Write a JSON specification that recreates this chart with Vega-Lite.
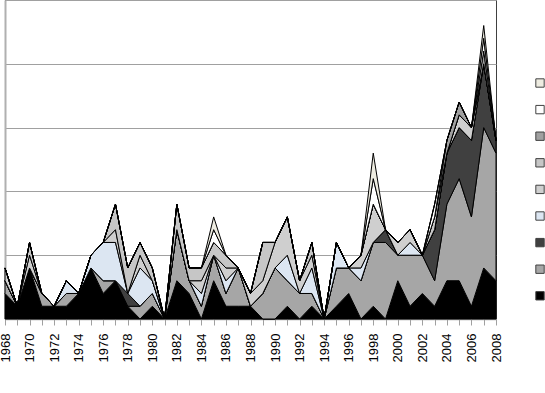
{
  "$schema": "https://vega.github.io/schema/vega-lite/v6.json",
  "width": 491,
  "height": 319,
  "autosize": {"type": "none"},
  "padding": {"left": 5, "top": 0, "right": 49, "bottom": 74},
  "background": "white",
  "config": {
    "view": {"stroke": "#404040", "strokeWidth": 1},
    "font": "Liberation Sans"
  },
  "data": {
    "values": [
      {"year": 1968, "s1": 2, "s2": 1, "s3": 0, "s4": 0, "s5": 1, "s6": 0, "s7": 0, "s8": 0, "s9": 0},
      {"year": 1969, "s1": 1, "s2": 0, "s3": 0, "s4": 0, "s5": 0, "s6": 0, "s7": 0, "s8": 0, "s9": 0},
      {"year": 1970, "s1": 4, "s2": 0, "s3": 0, "s4": 0, "s5": 1, "s6": 1, "s7": 0, "s8": 0, "s9": 0},
      {"year": 1971, "s1": 1, "s2": 1, "s3": 0, "s4": 0, "s5": 0, "s6": 0, "s7": 0, "s8": 0, "s9": 0},
      {"year": 1972, "s1": 1, "s2": 0, "s3": 0, "s4": 0, "s5": 0, "s6": 0, "s7": 0, "s8": 0, "s9": 0},
      {"year": 1973, "s1": 1, "s2": 1, "s3": 0, "s4": 1, "s5": 0, "s6": 0, "s7": 0, "s8": 0, "s9": 0},
      {"year": 1974, "s1": 2, "s2": 0, "s3": 0, "s4": 0, "s5": 0, "s6": 0, "s7": 0, "s8": 0, "s9": 0},
      {"year": 1975, "s1": 4, "s2": 0, "s3": 0, "s4": 1, "s5": 0, "s6": 0, "s7": 0, "s8": 0, "s9": 0},
      {"year": 1976, "s1": 2, "s2": 1, "s3": 0, "s4": 3, "s5": 0, "s6": 0, "s7": 0, "s8": 0, "s9": 0},
      {"year": 1977, "s1": 3, "s2": 0, "s3": 0, "s4": 3, "s5": 1, "s6": 2, "s7": 0, "s8": 0, "s9": 0},
      {"year": 1978, "s1": 1, "s2": 0, "s3": 1, "s4": 0, "s5": 0, "s6": 2, "s7": 0, "s8": 0, "s9": 0},
      {"year": 1979, "s1": 0, "s2": 1, "s3": 0, "s4": 3, "s5": 1, "s6": 1, "s7": 0, "s8": 0, "s9": 0},
      {"year": 1980, "s1": 1, "s2": 1, "s3": 0, "s4": 1, "s5": 0, "s6": 1, "s7": 0, "s8": 0, "s9": 0},
      {"year": 1981, "s1": 0, "s2": 0, "s3": 0, "s4": 0, "s5": 0, "s6": 0, "s7": 0, "s8": 0, "s9": 0},
      {"year": 1982, "s1": 3, "s2": 4, "s3": 0, "s4": 0, "s5": 0, "s6": 2, "s7": 0, "s8": 0, "s9": 0},
      {"year": 1983, "s1": 2, "s2": 1, "s3": 0, "s4": 0, "s5": 0, "s6": 1, "s7": 0, "s8": 0, "s9": 0},
      {"year": 1984, "s1": 0, "s2": 1, "s3": 0, "s4": 1, "s5": 1, "s6": 1, "s7": 0, "s8": 0, "s9": 0},
      {"year": 1985, "s1": 3, "s2": 2, "s3": 0, "s4": 0, "s5": 0, "s6": 1, "s7": 0, "s8": 1, "s9": 1},
      {"year": 1986, "s1": 1, "s2": 1, "s3": 0, "s4": 1, "s5": 1, "s6": 1, "s7": 0, "s8": 0, "s9": 0},
      {"year": 1987, "s1": 1, "s2": 3, "s3": 0, "s4": 0, "s5": 0, "s6": 0, "s7": 0, "s8": 0, "s9": 0},
      {"year": 1988, "s1": 1, "s2": 0, "s3": 0, "s4": 0, "s5": 1, "s6": 0, "s7": 0, "s8": 0, "s9": 0},
      {"year": 1989, "s1": 0, "s2": 2, "s3": 0, "s4": 0, "s5": 1, "s6": 3, "s7": 0, "s8": 0, "s9": 0},
      {"year": 1990, "s1": 0, "s2": 4, "s3": 0, "s4": 0, "s5": 2, "s6": 0, "s7": 0, "s8": 0, "s9": 0},
      {"year": 1991, "s1": 1, "s2": 2, "s3": 0, "s4": 2, "s5": 3, "s6": 0, "s7": 0, "s8": 0, "s9": 0},
      {"year": 1992, "s1": 0, "s2": 2, "s3": 0, "s4": 0, "s5": 1, "s6": 0, "s7": 0, "s8": 0, "s9": 0},
      {"year": 1993, "s1": 1, "s2": 1, "s3": 0, "s4": 2, "s5": 1, "s6": 1, "s7": 0, "s8": 0, "s9": 0},
      {"year": 1994, "s1": 0, "s2": 0, "s3": 0, "s4": 0, "s5": 0, "s6": 0, "s7": 0, "s8": 0, "s9": 0},
      {"year": 1995, "s1": 1, "s2": 3, "s3": 0, "s4": 2, "s5": 0, "s6": 0, "s7": 0, "s8": 0, "s9": 0},
      {"year": 1996, "s1": 2, "s2": 2, "s3": 0, "s4": 0, "s5": 0, "s6": 0, "s7": 0, "s8": 0, "s9": 0},
      {"year": 1997, "s1": 0, "s2": 3, "s3": 0, "s4": 1, "s5": 1, "s6": 0, "s7": 0, "s8": 0, "s9": 0},
      {"year": 1998, "s1": 1, "s2": 5, "s3": 0, "s4": 0, "s5": 3, "s6": 0, "s7": 0, "s8": 2, "s9": 2},
      {"year": 1999, "s1": 0, "s2": 6, "s3": 1, "s4": 0, "s5": 0, "s6": 0, "s7": 0, "s8": 0, "s9": 0},
      {"year": 2000, "s1": 3, "s2": 2, "s3": 0, "s4": 0, "s5": 1, "s6": 0, "s7": 0, "s8": 0, "s9": 0},
      {"year": 2001, "s1": 1, "s2": 4, "s3": 0, "s4": 1, "s5": 1, "s6": 0, "s7": 0, "s8": 0, "s9": 0},
      {"year": 2002, "s1": 2, "s2": 3, "s3": 0, "s4": 0, "s5": 0, "s6": 0, "s7": 0, "s8": 0, "s9": 0},
      {"year": 2003, "s1": 1, "s2": 2, "s3": 4, "s4": 0, "s5": 0, "s6": 1, "s7": 0, "s8": 1, "s9": 0},
      {"year": 2004, "s1": 3, "s2": 6, "s3": 4, "s4": 0, "s5": 0, "s6": 0, "s7": 1, "s8": 0, "s9": 0},
      {"year": 2005, "s1": 3, "s2": 8, "s3": 4, "s4": 0, "s5": 1, "s6": 0, "s7": 1, "s8": 0, "s9": 0},
      {"year": 2006, "s1": 1, "s2": 7, "s3": 6, "s4": 0, "s5": 1, "s6": 0, "s7": 0, "s8": 0, "s9": 0},
      {"year": 2007, "s1": 4, "s2": 11, "s3": 5, "s4": 0, "s5": 0, "s6": 0, "s7": 1, "s8": 1, "s9": 1},
      {"year": 2008, "s1": 3, "s2": 10, "s3": 1, "s4": 0, "s5": 0, "s6": 0, "s7": 0, "s8": 0, "s9": 0}
    ]
  },
  "transform": [
    {"fold": ["s1", "s2", "s3", "s4", "s5", "s6", "s7", "s8", "s9"], "as": ["series", "value"]}
  ],
  "mark": {"type": "area", "stroke": "#000000", "strokeWidth": 1, "strokeJoin": "miter", "interpolate": "linear"},
  "encoding": {
    "x": {
      "field": "year",
      "type": "quantitative",
      "scale": {"domain": [1968, 2008], "nice": false, "zero": false},
      "axis": {
        "title": null,
        "values": [1968,1969,1970,1971,1972,1973,1974,1975,1976,1977,1978,1979,1980,1981,1982,1983,1984,1985,1986,1987,1988,1989,1990,1991,1992,1993,1994,1995,1996,1997,1998,1999,2000,2001,2002,2003,2004,2005,2006,2007,2008],
        "labelExpr": "datum.value % 2 == 0 ? '' + datum.value : ''",
        "labelAngle": -90,
        "labelAlign": "right",
        "labelBaseline": "middle",
        "labelFontSize": 13,
        "labelColor": "#000000",
        "labelPadding": 8,
        "labelOverlap": false,
        "labelFlush": false,
        "tickSize": 6,
        "tickColor": "#a0a0a0",
        "domainColor": "#a0a0a0",
        "domainWidth": 1.5,
        "grid": false
      }
    },
    "y": {
      "field": "value",
      "type": "quantitative",
      "stack": "zero",
      "scale": {"domain": [0, 25], "nice": false},
      "axis": {
        "title": null,
        "labels": false,
        "ticks": false,
        "values": [0, 5, 10, 15, 20, 25],
        "grid": true,
        "gridColor": "#a0a0a0",
        "gridWidth": 1,
        "domainColor": "#b0b0b0",
        "domainWidth": 2
      }
    },
    "color": {
      "field": "series",
      "type": "nominal",
      "scale": {
        "domain": ["s9", "s8", "s7", "s6", "s5", "s4", "s3", "s2", "s1"],
        "range": ["#eeece1", "#ffffff", "#a0a0a0", "#c6c6c6", "#cfcfcf", "#dce6f2", "#404040", "#a6a6a6", "#000000"]
      },
      "legend": {
        "title": null,
        "orient": "none",
        "legendX": 530,
        "legendY": 78,
        "symbolType": "square",
        "symbolSize": 70,
        "symbolStrokeColor": "#404040",
        "symbolStrokeWidth": 1,
        "labelExpr": "''",
        "labelFontSize": 10,
        "rowPadding": 12.6,
        "symbolOpacity": 1
      }
    },
    "order": {"field": "series", "type": "ordinal", "sort": "ascending"}
  }
}
